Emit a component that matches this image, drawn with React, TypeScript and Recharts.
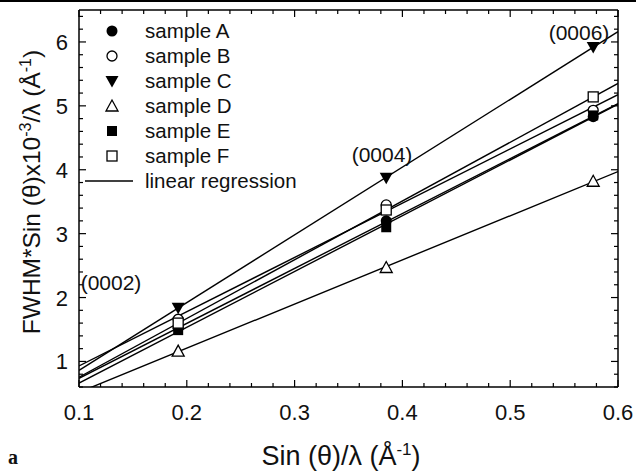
import React from "react";
import {
  ComposedChart,
  Line,
  Scatter,
  XAxis,
  YAxis,
} from "recharts";

// sin(theta)/lambda positions of the (0002), (0004), (0006) reflections
const X_POS = [0.192, 0.385, 0.577];
const REFLECTIONS = ["(0002)", "(0004)", "(0006)"];

// FWHM*sin(theta)/lambda x10^-3
const SAMPLE_A = [1.52, 3.2, 4.83];
const SAMPLE_B = [1.66, 3.45, 4.93];
const SAMPLE_C = [1.84, 3.875, 5.92];
const SAMPLE_D = [1.16, 2.47, 3.82];
const SAMPLE_E = [1.49, 3.1, 4.85];
const SAMPLE_F = [1.6, 3.37, 5.14];

const X_MAJOR = [0.1, 0.2, 0.3, 0.4, 0.5, 0.6];
const Y_MAJOR = [1, 2, 3, 4, 5, 6];

const FONT = "'Liberation Sans', Arial, sans-serif";

type Kind = "dot" | "circle" | "down" | "up" | "block" | "box";

const SERIES: { name: string; kind: Kind; values: number[] }[] = [
  { name: "sample A", kind: "dot", values: SAMPLE_A },
  { name: "sample B", kind: "circle", values: SAMPLE_B },
  { name: "sample C", kind: "down", values: SAMPLE_C },
  { name: "sample D", kind: "up", values: SAMPLE_D },
  { name: "sample E", kind: "block", values: SAMPLE_E },
  { name: "sample F", kind: "box", values: SAMPLE_F },
];

const xMinor: number[] = [];
for (let i = 0; i <= 25; i++) xMinor.push(Math.round((0.1 + i * 0.02) * 100) / 100);
const yMinor: number[] = [];
for (let i = 0; i <= 29; i++) yMinor.push(Math.round((0.6 + i * 0.2) * 10) / 10);

const isMajor = (v: number, list: number[]) => list.some((m) => Math.abs(m - v) < 1e-6);

// least squares fit drawn across the whole x range
function fit(values: number[]) {
  const n = X_POS.length;
  const mx = X_POS.reduce((a, b) => a + b, 0) / n;
  const my = values.reduce((a, b) => a + b, 0) / n;
  let sxy = 0;
  let sxx = 0;
  X_POS.forEach((x, i) => {
    sxy += (x - mx) * (values[i] - my);
    sxx += (x - mx) * (x - mx);
  });
  const b = sxy / sxx;
  const a = my - b * mx;
  return [0.1, 0.6].map((x) => ({ x, y: a + b * x }));
}

function Marker({ kind, cx, cy }: { kind: Kind; cx: number; cy: number }) {
  const sw = 1.3;
  switch (kind) {
    case "dot":
      return <circle cx={cx} cy={cy} r={5.5} fill="#000" />;
    case "circle":
      return <circle cx={cx} cy={cy} r={5} fill="#fff" stroke="#000" strokeWidth={sw} />;
    case "down":
      return <path d={`M${cx - 6.5},${cy - 5} L${cx + 6.5},${cy - 5} L${cx},${cy + 6.5} Z`} fill="#000" />;
    case "up":
      return (
        <path
          d={`M${cx - 6},${cy + 5} L${cx + 6},${cy + 5} L${cx},${cy - 6} Z`}
          fill="#fff"
          stroke="#000"
          strokeWidth={sw}
        />
      );
    case "block":
      return <rect x={cx - 5} y={cy - 5} width={10} height={10} fill="#000" />;
    default:
      return <rect x={cx - 5} y={cy - 5} width={10} height={10} fill="#fff" stroke="#000" strokeWidth={sw} />;
  }
}

function BottomTick(props: any) {
  const { x, y, payload } = props;
  const major = isMajor(payload.value, X_MAJOR);
  return (
    <g>
      <line x1={x} x2={x} y1={y} y2={y - (major ? 7 : 4)} stroke="#000" strokeWidth={1.2} />
      {major && (
        <text x={x} y={y + 33} textAnchor="middle" fontFamily={FONT} fontSize={22} fill="#111">
          {payload.value.toFixed(1)}
        </text>
      )}
    </g>
  );
}

function TopTick(props: any) {
  const { x, y, payload } = props;
  const major = isMajor(payload.value, X_MAJOR);
  return <line x1={x} x2={x} y1={y} y2={y + (major ? 7 : 4)} stroke="#000" strokeWidth={1.2} />;
}

function LeftTick(props: any) {
  const { x, y, payload } = props;
  const major = isMajor(payload.value, Y_MAJOR);
  return (
    <g>
      <line x1={x} x2={x + (major ? 7 : 4)} y1={y} y2={y} stroke="#000" strokeWidth={1.2} />
      {major && (
        <text x={x - 11} y={y + 8} textAnchor="end" fontFamily={FONT} fontSize={22} fill="#111">
          {payload.value}
        </text>
      )}
    </g>
  );
}

function RightTick(props: any) {
  const { x, y, payload } = props;
  const major = isMajor(payload.value, Y_MAJOR);
  return <line x1={x} x2={x - (major ? 7 : 4)} y1={y} y2={y} stroke="#000" strokeWidth={1.2} />;
}

const LEGEND_ROWS = [31, 56, 81, 106, 131, 156, 181];
const ANNOT_POS = [
  { x: 111, y: 290 },
  { x: 382, y: 162 },
  { x: 579, y: 40 },
];

const axisLine = { stroke: "#000", strokeWidth: 1.5 };

export default function App() {
  return (
    <div style={{ position: "absolute", left: 0, top: 0, width: 636, height: 476, background: "#fff" }}>
      <ComposedChart
        width={636}
        height={476}
        margin={{ top: 9, right: 17, bottom: 88, left: 78 }}
      >
        <XAxis
          xAxisId="b"
          dataKey="x"
          type="number"
          domain={[0.1, 0.6]}
          ticks={xMinor}
          allowDataOverflow
          height={1}
          tickLine={false}
          tickSize={0}
          tickMargin={0}
          axisLine={axisLine}
          tick={<BottomTick />}
          interval={0}
        />
        <XAxis
          xAxisId="t"
          orientation="top"
          dataKey="x"
          type="number"
          domain={[0.1, 0.6]}
          ticks={xMinor}
          allowDataOverflow
          height={1}
          tickLine={false}
          tickSize={0}
          tickMargin={0}
          axisLine={axisLine}
          tick={<TopTick />}
          interval={0}
        />
        <YAxis
          yAxisId="l"
          dataKey="y"
          type="number"
          domain={[0.6, 6.5]}
          ticks={yMinor}
          allowDataOverflow
          width={1}
          tickLine={false}
          tickSize={0}
          tickMargin={0}
          axisLine={axisLine}
          tick={<LeftTick />}
          interval={0}
        />
        <YAxis
          yAxisId="r"
          orientation="right"
          dataKey="y"
          type="number"
          domain={[0.6, 6.5]}
          ticks={yMinor}
          allowDataOverflow
          width={1}
          tickLine={false}
          tickSize={0}
          tickMargin={0}
          axisLine={axisLine}
          tick={<RightTick />}
          interval={0}
        />
        {SERIES.map((s) => (
          <Line
            key={s.name + "-fit"}
            xAxisId="b"
            yAxisId="l"
            data={fit(s.values)}
            dataKey="y"
            stroke="#000"
            strokeWidth={1.4}
            dot={false}
            activeDot={false}
            isAnimationActive={false}
            legendType="none"
          />
        ))}
        {SERIES.map((s) => (
          <Scatter
            key={s.name}
            name={s.name}
            xAxisId="b"
            yAxisId="l"
            data={X_POS.map((x, i) => ({ x, y: s.values[i] }))}
            dataKey="y"
            isAnimationActive={false}
            shape={(p: any) => <Marker kind={s.kind} cx={p.cx} cy={p.cy} />}
          />
        ))}
      </ComposedChart>
      <svg
        width={636}
        height={476}
        style={{ position: "absolute", left: 0, top: 0, pointerEvents: "none" }}
      >
        <rect x={0} y={0} width={636} height={2} fill="#000" />
        {SERIES.map((s, i) => (
          <g key={s.name}>
            <Marker kind={s.kind} cx={112} cy={LEGEND_ROWS[i]} />
            <text x={145} y={LEGEND_ROWS[i] + 7} fontFamily={FONT} fontSize={20.5} fill="#111">
              {s.name}
            </text>
          </g>
        ))}
        <line x1={85} x2={133} y1={LEGEND_ROWS[6]} y2={LEGEND_ROWS[6]} stroke="#000" strokeWidth={1.4} />
        <text x={145} y={LEGEND_ROWS[6] + 7} fontFamily={FONT} fontSize={20.5} fill="#111">
          linear regression
        </text>
        {REFLECTIONS.map((r, i) => (
          <text
            key={r}
            x={ANNOT_POS[i].x}
            y={ANNOT_POS[i].y}
            textAnchor="middle"
            fontFamily={FONT}
            fontSize={21}
            fill="#111"
          >
            {r}
          </text>
        ))}
        <text x={341} y={465} textAnchor="middle" fontFamily={FONT} fontSize={27} fill="#111">
          Sin (θ)/λ (Å<tspan dy={-10} fontSize={17}>-1</tspan>
          <tspan dy={10}>)</tspan>
        </text>
        <text
          transform="translate(40,192) rotate(-90)"
          textAnchor="middle"
          fontFamily={FONT}
          fontSize={24.5}
          fill="#111"
        >
          FWHM*Sin (θ)x10<tspan dy={-9} fontSize={16}>-3</tspan>
          <tspan dy={9}>/λ (Å</tspan>
          <tspan dy={-9} fontSize={16}>-1</tspan>
          <tspan dy={9}>)</tspan>
        </text>
        <text x={8} y={464} fontFamily="'Liberation Serif', serif" fontWeight="bold" fontSize={20} fill="#111">
          a
        </text>
      </svg>
    </div>
  );
}
